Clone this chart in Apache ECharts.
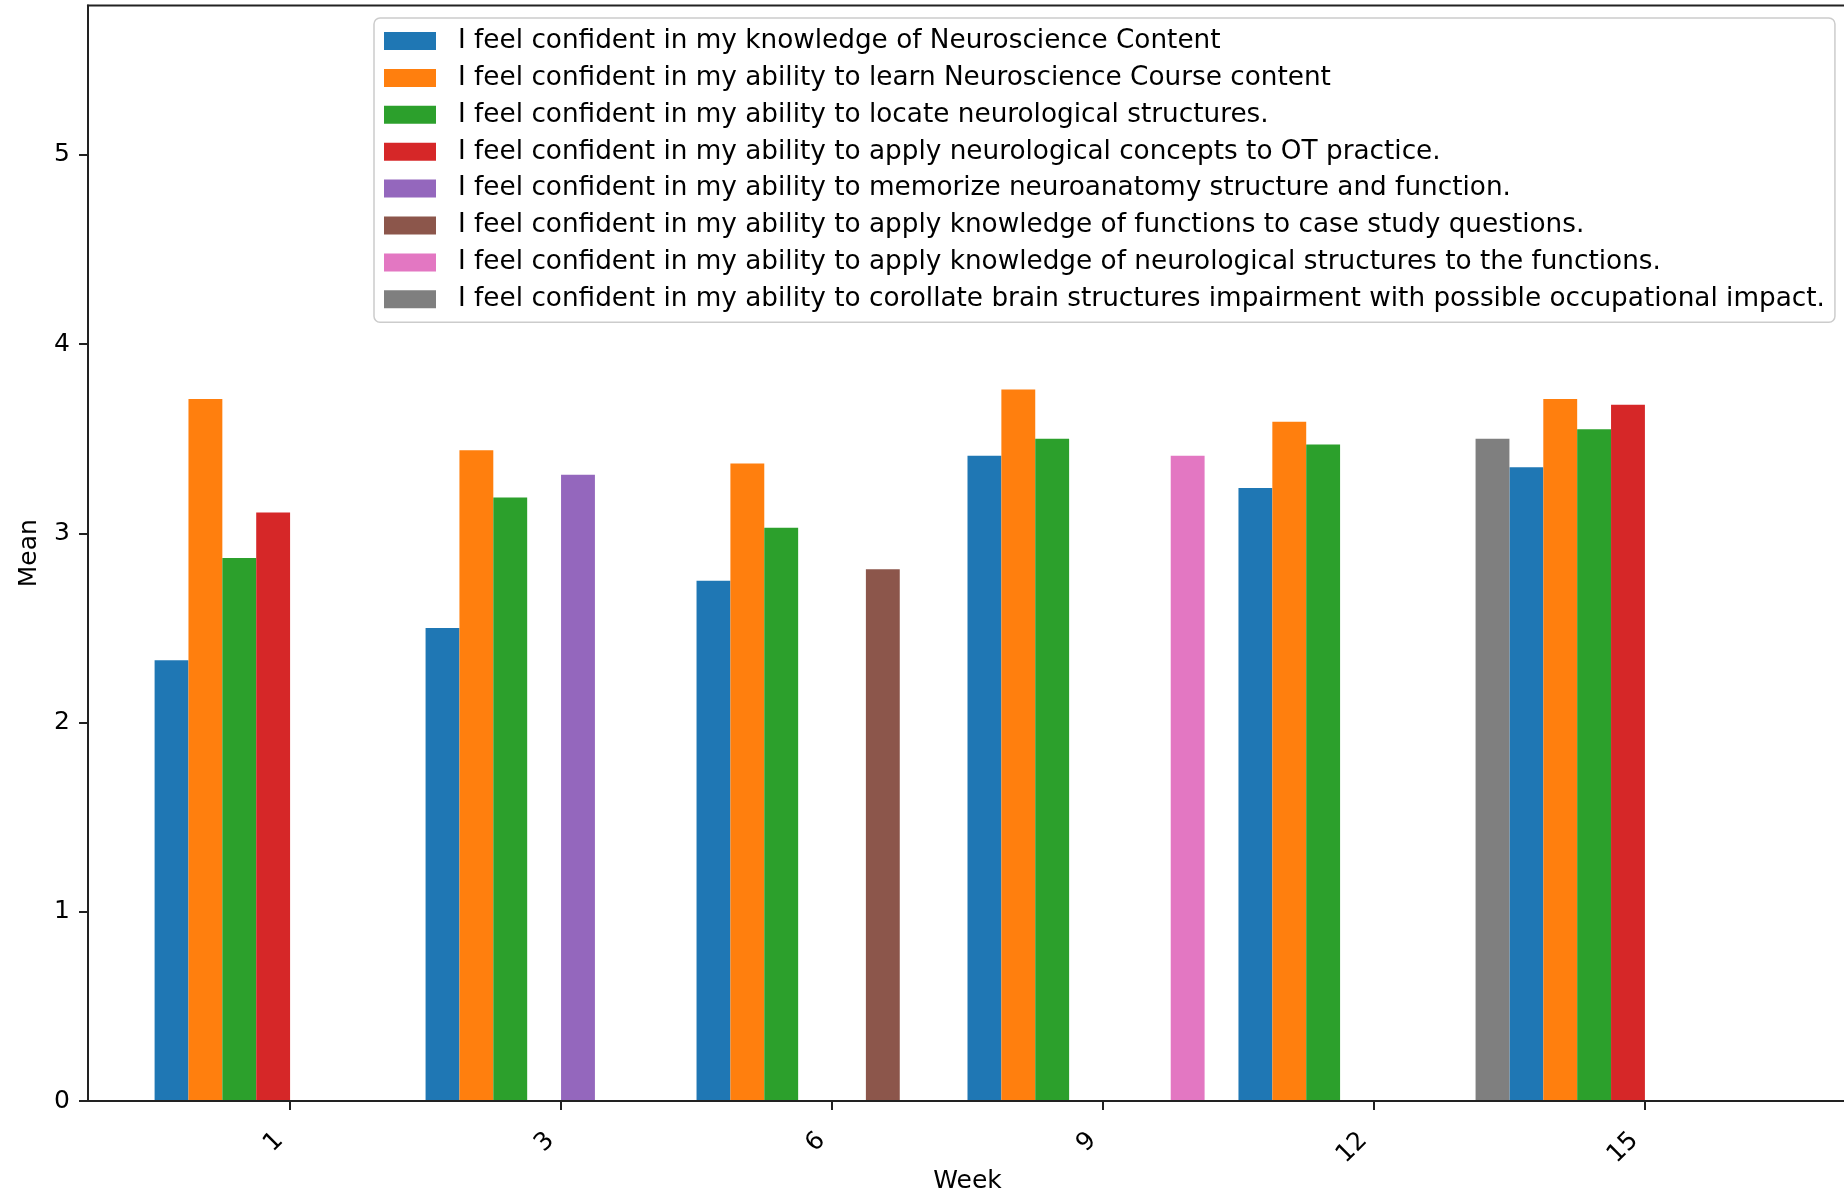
<!DOCTYPE html>
<html>
<head>
<meta charset="utf-8">
<script src="https://cdn.jsdelivr.net/npm/echarts@6/dist/echarts.min.js"></script>
<style>
  html, body { margin: 0; padding: 0; background: #ffffff; }
  #chart { width: 1844px; height: 1195px; }
</style>
</head>
<body>
<div id="chart"></div>
<script>
// Survey weeks (category ticks)
const weeks = ['1', '3', '6', '9', '12', '15'];

// Statement texts, one per series
const statements = [
  'I feel confident in my knowledge of Neuroscience Content',
  'I feel confident in my ability to learn Neuroscience Course content',
  'I feel confident in my ability to locate neurological structures.',
  'I feel confident in my ability to apply neurological concepts to OT practice.',
  'I feel confident in my ability to memorize neuroanatomy structure and function.',
  'I feel confident in my ability to apply knowledge of functions to case study questions.',
  'I feel confident in my ability to apply knowledge of neurological structures to the functions.',
  'I feel confident in my ability to corollate brain structures impairment with possible occupational impact.'
];

// Mean rating per week for each statement (null = not asked that week)
const knowledgeContent   = [2.33, 2.50, 2.75, 3.41, 3.24, 3.35];
const learnCourse        = [3.71, 3.44, 3.37, 3.76, 3.59, 3.71];
const locateStructures   = [2.87, 3.19, 3.03, 3.50, 3.47, 3.55];
const applyOT            = [3.11, null, null, null, null, 3.68];
const memorizeAnatomy    = [null, 3.31, null, null, null, null];
const caseStudy          = [null, null, 2.81, null, null, null];
const structuresToFunc   = [null, null, null, 3.41, null, null];
const corollateImpact    = [null, null, null, null, 3.50, null];

// Y-axis tick values
const yTicks = [0, 1, 2, 3, 4, 5];

const seriesValues = [
  knowledgeContent, learnCourse, locateStructures, applyOT,
  memorizeAnatomy, caseStudy, structuresToFunc, corollateImpact
];
const palette = ['#1f77b4', '#ff7f0e', '#2ca02c', '#d62728', '#9467bd', '#8c564b', '#e377c2', '#7f7f7f'];

const FONT = 'DejaVu Sans';
const INK = '#222222';
const Y_MAX = 5.79;
const PLOT_TOP = 5.5;
const PLOT_BOTTOM = 94;

const chart = echarts.init(document.getElementById('chart'), null, { renderer: 'canvas' });

const option = {
  animation: false,
  backgroundColor: '#ffffff',
  color: palette,
  textStyle: { fontFamily: FONT },
  grid: [
    // bar area: one band per week
    { left: 154.6, right: 63.6, top: PLOT_TOP, bottom: PLOT_BOTTOM,
      containLabel: false, outerBoundsMode: 'none' },
    // full axes frame
    { left: 88, right: -3, top: PLOT_TOP, bottom: PLOT_BOTTOM,
      containLabel: false, outerBoundsMode: 'none',
      show: true, borderColor: INK, borderWidth: 2, backgroundColor: 'transparent' }
  ],
  legend: {
    orient: 'vertical',
    left: 374,
    top: 18,
    icon: 'rect',
    itemWidth: 52,
    itemHeight: 18,
    itemGap: 6.9,
    padding: [8, 10, 8, 10],
    backgroundColor: 'rgba(255,255,255,0.8)',
    borderColor: '#cccccc',
    borderWidth: 1.5,
    borderRadius: 6,
    selectedMode: false,
    textStyle: { fontFamily: FONT, fontSize: 26.3, color: '#000', lineHeight: 30, padding: [0, 0, 0, 17] },
    data: statements
  },
  xAxis: [
    {
      type: 'category',
      gridIndex: 0,
      data: weeks,
      boundaryGap: true,
      axisLine: { show: false },
      axisTick: { show: true, alignWithLabel: true, length: 9, lineStyle: { color: INK, width: 2 } },
      axisLabel: {
        rotate: 45, margin: 25, fontFamily: FONT, fontSize: 25, color: '#000',
        padding: [0, 15, 0, 0]
      },
      splitLine: { show: false }
    },
    {
      type: 'value',
      gridIndex: 1,
      min: 0,
      max: 1,
      z: 10,
      axisLine: { show: true, lineStyle: { color: INK, width: 2 } },
      axisTick: { show: false },
      axisLabel: { show: false },
      splitLine: { show: false },
      name: 'Week',
      nameLocation: 'middle',
      nameGap: 68,
      nameTextStyle: { fontFamily: FONT, fontSize: 25, color: '#000' }
    }
  ],
  yAxis: [
    {
      type: 'value',
      gridIndex: 0,
      min: 0,
      max: Y_MAX,
      show: false,
      splitLine: { show: false }
    },
    {
      type: 'value',
      gridIndex: 1,
      min: 0,
      max: Y_MAX,
      z: 10,
      axisLine: { show: true, lineStyle: { color: INK, width: 2 } },
      axisTick: { show: true, length: 9, lineStyle: { color: INK, width: 2 }, customValues: yTicks },
      axisLabel: { fontFamily: FONT, fontSize: 25, color: '#000', margin: 18, customValues: yTicks },
      splitLine: { show: false },
      name: 'Mean',
      nameLocation: 'middle',
      nameRotate: 90,
      nameGap: 46,
      nameTextStyle: { fontFamily: FONT, fontSize: 25, color: '#000' }
    }
  ],
  series: statements.map((name, i) => ({
    name: name,
    type: 'bar',
    xAxisIndex: 0,
    yAxisIndex: 0,
    data: seriesValues[i],
    barGap: '0%',
    barCategoryGap: '0%',
    itemStyle: { color: palette[i] }
  }))
};

chart.setOption(option);
</script>
</body>
</html>
